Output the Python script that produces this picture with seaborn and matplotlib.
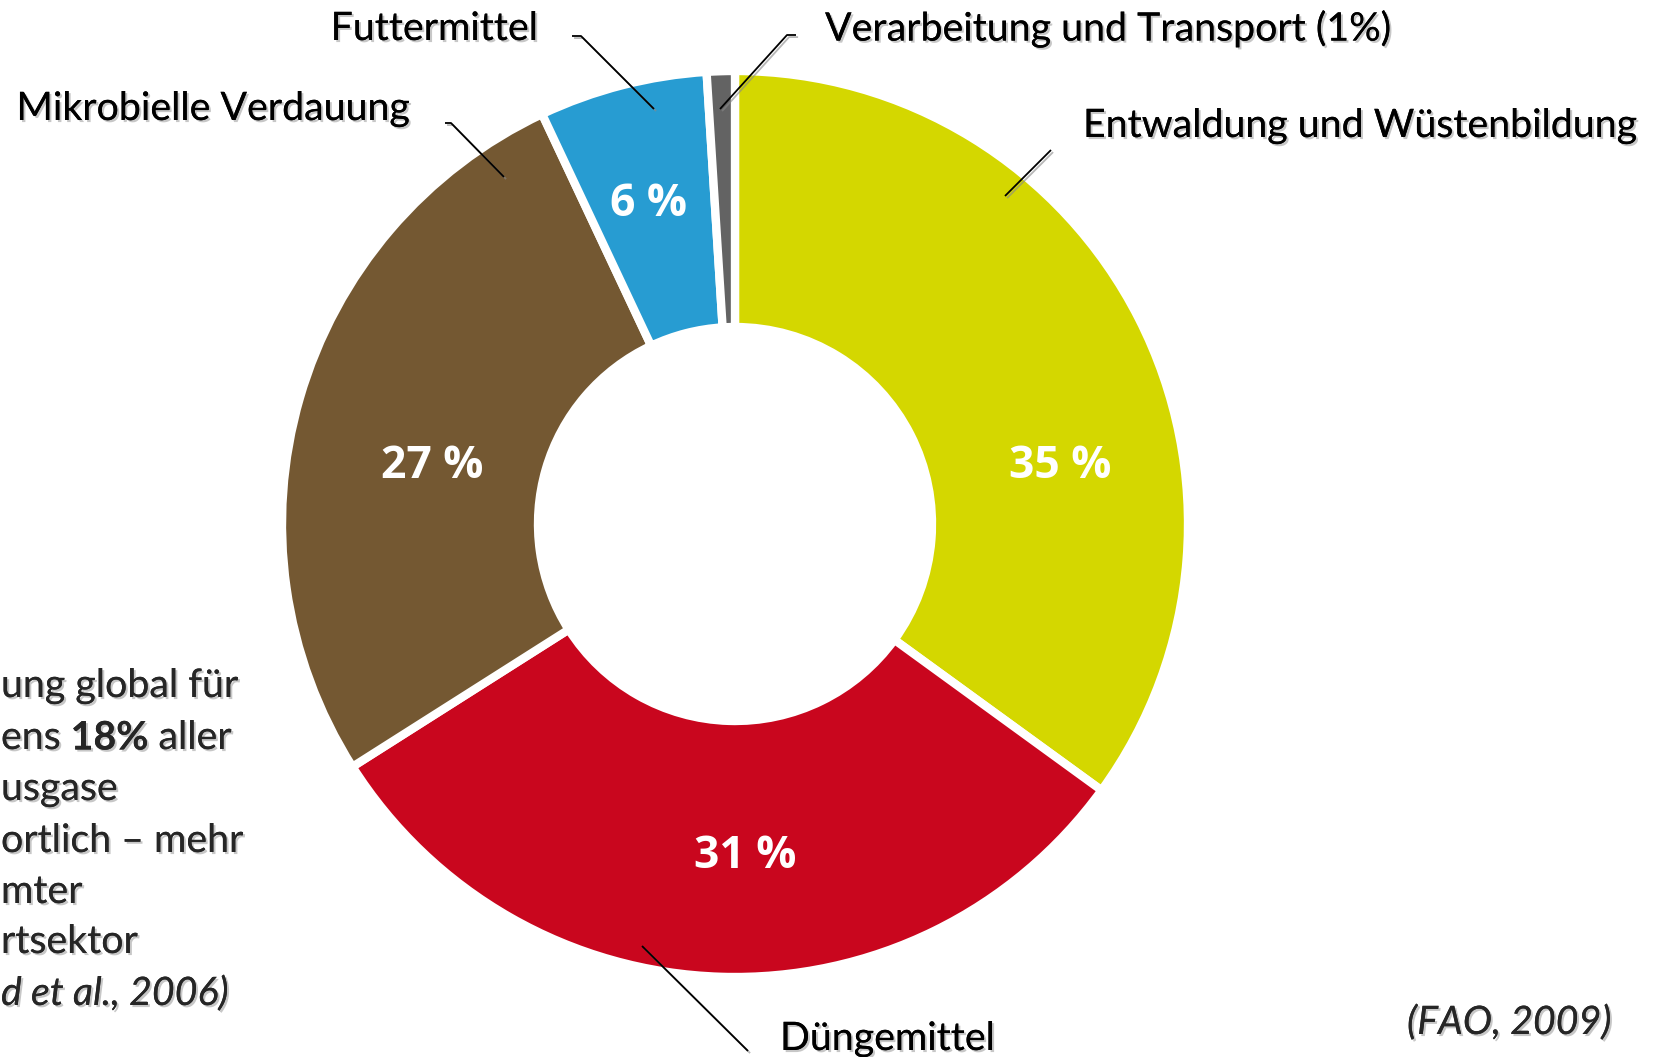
import matplotlib
matplotlib.use("Agg")
import matplotlib.pyplot as plt
import matplotlib.patheffects as pe
import seaborn as sns

# Daten
kategorien = ["Entwaldung und Wüstenbildung", "Düngemittel", "Mikrobielle Verdauung",
              "Futtermittel", "Verarbeitung und Transport (1%)"]
anteile = [35, 31, 27, 6, 1]
prozent_labels = ["35 %", "31 %", "27 %", "6 %", ""]
farben = ["#D4D700", "#C9061E", "#745832", "#279CD2", "#636363"]

linker_text = ["ung global für", "ens |18%| aller", "usgase", "ortlich – mehr",
               "mter", "rtsektor", "d et al., 2006)"]
quelle = "(FAO, 2009)"

sns.set_theme(style="white")
plt.rcParams["font.family"] = ["Lato", "DejaVu Sans"]

W, H = 1653, 1057
fig = plt.figure(figsize=(W / 100, H / 100), dpi=100)
ax = fig.add_axes([0, 0, 1, 1])


def Y(y):
    # Pixel von oben -> Datenkoordinate
    return H - y


zentrum = (735, Y(524))
radius = 453

ax.pie(anteile, colors=farben, startangle=90, counterclock=False,
       center=zentrum, radius=radius,
       wedgeprops=dict(width=radius - 197, edgecolor="white", linewidth=6))

ax.set_xlim(0, W)
ax.set_ylim(0, H)
ax.set_aspect("equal")
ax.axis("off")

# Prozentangaben in den Segmenten
prozent_pos = [(1060, 466), (745, 857), (432, 466), (648, 205), None]
for txt, pos in zip(prozent_labels, prozent_pos):
    if pos is None:
        continue
    ax.text(pos[0], Y(pos[1]), txt, color="white", fontsize=32, fontweight="bold",
            family=["Open Sans", "DejaVu Sans"], ha="center", va="center")

schatten = [pe.withSimplePatchShadow(offset=(1.5, -1.5), shadow_rgbFace="#9a9a9a", alpha=0.55),
            pe.Normal()]
fs = 28.3

# Beschriftungen (Position, Ausrichtung)
beschriftung = {
    "Entwaldung und Wüstenbildung": ((1083, 126), "left"),
    "Düngemittel": ((780, 1039), "left"),
    "Mikrobielle Verdauung": ((409, 109), "right"),
    "Futtermittel": ((538, 29), "right"),
    "Verarbeitung und Transport (1%)": ((825, 29), "left"),
}
for name in kategorien:
    (x, y), ha = beschriftung[name]
    ax.text(x, Y(y), name, fontsize=fs, ha=ha, va="center", color="black",
            path_effects=schatten)

# Führungslinien
linien = [
    [(1051, 150), (1005, 196)],
    [(642, 946), (748, 1051)],
    [(445, 123), (451, 123), (504, 177)],
    [(572, 36), (581, 36), (654, 109)],
    [(796, 35), (787, 35), (720, 109)],
]
for pts in linien:
    ax.plot([p[0] for p in pts], [Y(p[1]) for p in pts], color="black", lw=1.3,
            solid_capstyle="butt",
            path_effects=[pe.SimpleLineShadow(offset=(1.5, -1.5), shadow_color="#888888", alpha=0.6),
                          pe.Normal()])

# linker, abgeschnittener Textblock
zeilen_y = [686, 738, 789, 841, 892, 942, 994]
for i, (zeile, y) in enumerate(zip(linker_text, zeilen_y)):
    style = "italic" if i == len(linker_text) - 1 else "normal"
    if "|" in zeile:
        teile = zeile.split("|")
        t = ax.text(1, Y(y), teile[0], fontsize=fs, ha="left", va="center", path_effects=schatten)
        fig.canvas.draw()
        t = ax.annotate(teile[1], xycoords=t, xy=(1, 0.5), va="center", ha="left",
                        fontsize=fs, fontweight="bold", path_effects=schatten)
        fig.canvas.draw()
        ax.annotate(teile[2], xycoords=t, xy=(1, 0.5), va="center", ha="left",
                    fontsize=fs, path_effects=schatten)
    else:
        ax.text(1, Y(y), zeile, fontsize=fs, ha="left", va="center", style=style,
                path_effects=schatten)

ax.text(1611, Y(1023), quelle, fontsize=fs, ha="right", va="center", style="italic",
        path_effects=schatten)

fig.savefig("out.png", dpi=100)
